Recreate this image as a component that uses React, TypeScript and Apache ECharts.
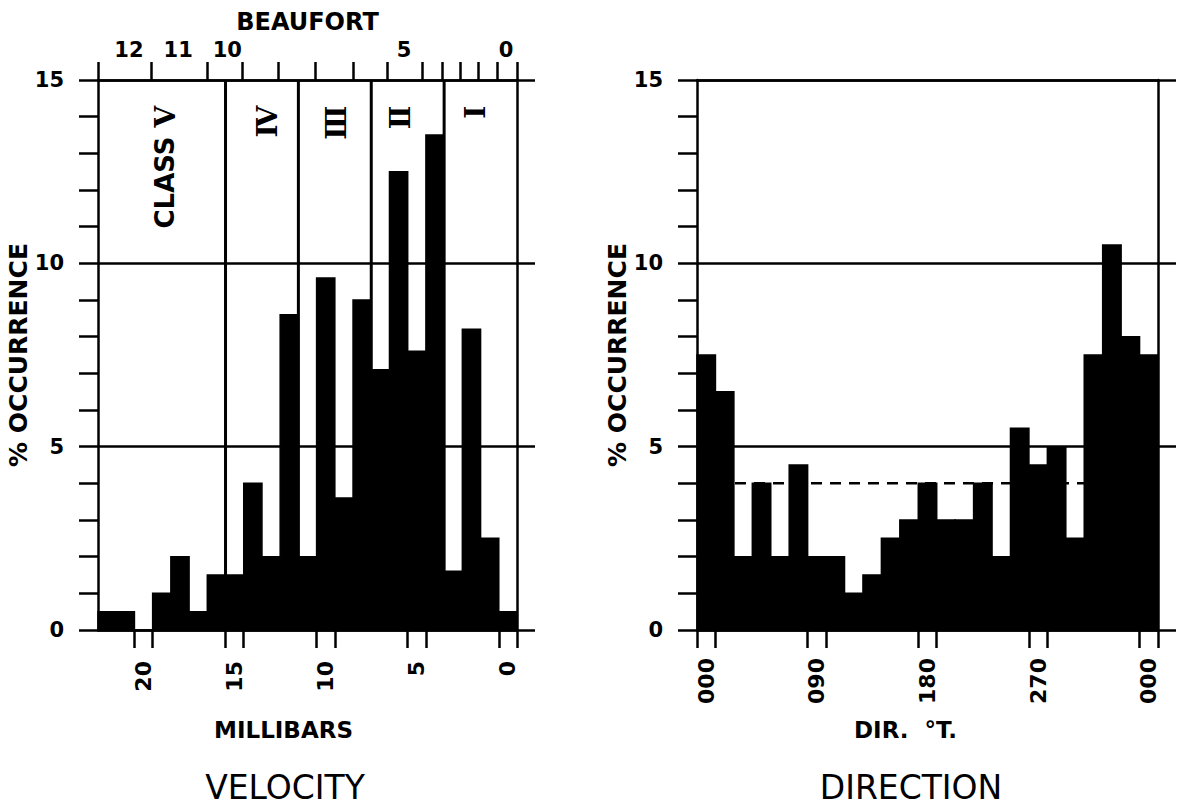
import React, { useEffect, useRef } from "react";
import * as echarts from "echarts";

// ---------- DATA ----------
// Velocity histogram (pressure gradient, millibars; bins 1 mb wide)
const velocityMb = [22, 21, 20, 19, 18, 17, 16, 15, 14, 13, 12, 11, 10, 9, 8, 7, 6, 5, 4, 3, 2, 1, 0];
const velocityPct = [0.5, 0.5, 0, 1.0, 2.0, 0.5, 1.5, 1.5, 4.0, 2.0, 8.6, 2.0, 9.6, 3.6, 9.0, 7.1, 12.5, 7.6, 13.5, 1.6, 8.2, 2.5, 0.5];
const velocityBinWidth = 1;
const velocityLabelMb = [20, 15, 10, 5, 0];
const velocityTickEdges = [20.5, 19.5, 15.5, 14.5, 10.5, 9.5, 5.5, 4.5, 0.5, -0.5];
const velocityRange = [-0.5, 22.5];

// Class boundaries and labels
const classEdges = [15.5, 11.5, 7.5, 3.5];
const classWords = ["CLASS", "", "", "", ""];
const classNumerals = ["Ⅴ", "Ⅳ", "Ⅲ", "Ⅱ", "Ⅰ"];
const classLabelMb = [18.8, 13.2, 9.4, 5.9, 1.8];
const classLabelTop = 14.3;

// Beaufort scale on the top axis
const beaufortEdges = [22.5, 19.6, 16.5, 14.6, 12.6, 10.6, 8.5, 6.6, 4.7, 3.6, 2.6, 1.6, 0.6, -0.5];
const beaufortLabelMb = [20.8, 18.1, 15.4, 5.7, 0.1];
const beaufortLabels = ["12", "11", "10", "5", "0"];

// Direction histogram (degrees true; bins 15 deg wide, 000 repeated at the end)
const directionDeg = [0, 15, 30, 45, 60, 75, 90, 105, 120, 135, 150, 165, 180, 195, 210, 225, 240, 255, 270, 285, 300, 315, 330, 345, 360];
const directionPct = [7.5, 6.5, 2.0, 4.0, 2.0, 4.5, 2.0, 2.0, 1.0, 1.5, 2.5, 3.0, 4.0, 3.0, 3.0, 4.0, 2.0, 5.5, 4.5, 5.0, 2.5, 7.5, 10.5, 8.0, 7.5];
const directionBinWidth = 15;
const directionLabelDeg = [0, 90, 180, 270, 360];
const directionLabels = ["000", "090", "180", "270", "000"];
const directionTickEdges = [-7.5, 7.5, 82.5, 97.5, 172.5, 187.5, 262.5, 277.5, 352.5, 367.5];
const directionRange = [-7.5, 367.5];
const meanLevel = 4;

const pctMax = 15;
const pctInterval = 5;

// ---------- STYLE ----------
const BLACK = "#000";
const FONT = '"DejaVu Sans", "Liberation Sans", sans-serif';
const LW = 2.5;
const axisLineStyle = { color: BLACK, width: LW };
const bold = (size: number) => ({ color: BLACK, fontFamily: FONT, fontWeight: "bold" as const, fontSize: size });

const nearestLabel = (v: number, positions: number[], labels: string[]) => {
  let best = 0;
  for (let i = 1; i < positions.length; i++) {
    if (Math.abs(positions[i] - v) < Math.abs(positions[best] - v)) best = i;
  }
  return Math.abs(positions[best] - v) < 1e-6 ? labels[best] : "";
};

const histogramRenderer = (binWidth: number) => (params: any, api: any) => {
  const x = api.value(0);
  const y = api.value(1);
  const p1 = api.coord([x - binWidth / 2, y]);
  const p2 = api.coord([x + binWidth / 2, 0]);
  const left = Math.min(p1[0], p2[0]);
  const top = Math.min(p1[1], p2[1]);
  return {
    type: "rect",
    shape: { x: left, y: top, width: Math.abs(p2[0] - p1[0]), height: Math.abs(p2[1] - p1[1]) },
    style: { fill: BLACK, stroke: BLACK, lineWidth: 1.5 },
  };
};

function buildOption(): any {
  const yLeft = (gridIndex: number, nameGap: number) => ({
    gridIndex,
    type: "value",
    position: "left",
    min: 0,
    max: pctMax,
    interval: pctInterval,
    axisLine: { show: true, onZero: false, lineStyle: axisLineStyle },
    axisTick: { show: true, length: 19, lineStyle: axisLineStyle },
    minorTick: { show: true, splitNumber: 5, length: 19, lineStyle: axisLineStyle },
    axisLabel: { margin: 34, ...bold(21) },
    splitLine: { show: true, lineStyle: axisLineStyle },
    name: "% OCCURRENCE",
    nameLocation: "middle",
    nameRotate: 90,
    nameGap,
    nameTextStyle: bold(25),
  });
  const yRight = (gridIndex: number) => ({
    gridIndex,
    type: "value",
    position: "right",
    min: 0,
    max: pctMax,
    interval: pctInterval,
    axisLine: { show: true, onZero: false, lineStyle: axisLineStyle },
    axisTick: { show: true, length: 18, lineStyle: axisLineStyle },
    axisLabel: { show: false },
    splitLine: { show: false },
  });

  return {
    animation: false,
    backgroundColor: "#fff",
    grid: [
      { left: 98, top: 80, width: 419, height: 550, outerBoundsMode: "none" },
      { left: 697, top: 80, width: 461, height: 550, outerBoundsMode: "none" },
    ],
    xAxis: [
      {
        gridIndex: 0,
        type: "value",
        position: "bottom",
        min: velocityRange[0],
        max: velocityRange[1],
        inverse: true,
        axisLine: { show: true, onZero: false, lineStyle: axisLineStyle },
        axisTick: { show: true, customValues: velocityTickEdges, length: 18, lineStyle: axisLineStyle },
        axisLabel: { customValues: velocityLabelMb, rotate: 90, margin: 31, ...bold(22) },
        splitLine: { show: false },
        name: "MILLIBARS",
        nameLocation: "middle",
        nameGap: 88,
        nameTextStyle: { ...bold(23), padding: [0, 48, 0, 0] },
      },
      {
        gridIndex: 0,
        type: "value",
        position: "top",
        min: velocityRange[0],
        max: velocityRange[1],
        inverse: true,
        axisLine: { show: true, onZero: false, lineStyle: axisLineStyle },
        axisTick: { show: true, customValues: beaufortEdges, length: 18, lineStyle: axisLineStyle },
        axisLabel: {
          customValues: beaufortLabelMb,
          margin: 20,
          formatter: (v: number) => nearestLabel(v, beaufortLabelMb, beaufortLabels),
          ...bold(21),
        },
        splitLine: { show: false },
        name: "BEAUFORT",
        nameLocation: "middle",
        nameGap: 46,
        nameTextStyle: bold(24),
      },
      {
        gridIndex: 1,
        type: "value",
        position: "bottom",
        min: directionRange[0],
        max: directionRange[1],
        axisLine: { show: true, onZero: false, lineStyle: axisLineStyle },
        axisTick: { show: true, customValues: directionTickEdges, length: 18, lineStyle: axisLineStyle },
        axisLabel: {
          customValues: directionLabelDeg,
          rotate: 90,
          margin: 28,
          formatter: (v: number) => nearestLabel(v, directionLabelDeg, directionLabels),
          ...bold(22),
        },
        splitLine: { show: false },
        name: "DIR.  °T.",
        nameLocation: "middle",
        nameGap: 88,
        nameTextStyle: { ...bold(23), padding: [0, 44, 0, 0] },
      },
      {
        gridIndex: 1,
        type: "value",
        position: "top",
        min: directionRange[0],
        max: directionRange[1],
        axisLine: { show: true, onZero: false, lineStyle: axisLineStyle },
        axisTick: { show: false },
        axisLabel: { show: false },
        splitLine: { show: false },
      },
    ],
    yAxis: [yLeft(0, 56), yRight(0), yLeft(1, 51), yRight(1)],
    graphic: [
      {
        type: "text",
        x: 285,
        y: 804,
        style: { text: "VELOCITY", fill: BLACK, fontFamily: FONT, fontSize: 33, fontWeight: "normal", align: "center", verticalAlign: "bottom" },
      },
      {
        type: "text",
        x: 911,
        y: 804,
        style: { text: "DIRECTION", fill: BLACK, fontFamily: FONT, fontSize: 33, fontWeight: "normal", align: "center", verticalAlign: "bottom" },
      },
    ],
    series: [
      {
        name: "Velocity",
        type: "custom",
        xAxisIndex: 0,
        yAxisIndex: 0,
        z: 3,
        renderItem: histogramRenderer(velocityBinWidth),
        data: velocityMb.map((m, i) => [m, velocityPct[i]]),
      },
      {
        name: "Class boundaries",
        type: "custom",
        xAxisIndex: 0,
        yAxisIndex: 0,
        z: 4,
        renderItem: (params: any, api: any) => {
          const a = api.coord([api.value(0), 0]);
          const b = api.coord([api.value(0), api.value(1)]);
          return {
            type: "line",
            shape: { x1: a[0], y1: a[1], x2: b[0], y2: b[1] },
            style: { stroke: BLACK, lineWidth: 3 },
          };
        },
        data: classEdges.map((e) => [e, pctMax]),
      },
      {
        name: "Class labels",
        type: "custom",
        xAxisIndex: 0,
        yAxisIndex: 0,
        z: 5,
        renderItem: (params: any, api: any) => {
          const p = api.coord([api.value(0), api.value(1)]);
          const word = classWords[params.dataIndex];
          const num = classNumerals[params.dataIndex];
          const text = word ? `{s|${word} }{r|${num}}` : `{r|${num}}`;
          return {
            type: "text",
            x: p[0],
            y: p[1],
            rotation: Math.PI / 2,
            style: {
              text,
              fill: BLACK,
              align: "right",
              verticalAlign: "middle",
              rich: {
                s: { fontFamily: FONT, fontWeight: "bold", fontSize: 26, fill: BLACK },
                r: { fontFamily: '"DejaVu Serif", "Liberation Serif", serif', fontWeight: "bold", fontSize: 28, fill: BLACK },
              },
            },
          };
        },
        data: classLabelMb.map((m) => [m, classLabelTop]),
      },
      {
        name: "Mean",
        type: "line",
        xAxisIndex: 2,
        yAxisIndex: 2,
        z: 2,
        symbol: "none",
        silent: true,
        lineStyle: { color: BLACK, width: 2.5, type: [11, 8] },
        data: [
          [directionRange[0], meanLevel],
          [directionRange[1], meanLevel],
        ],
      },
      {
        name: "Direction",
        type: "custom",
        xAxisIndex: 2,
        yAxisIndex: 2,
        z: 3,
        renderItem: histogramRenderer(directionBinWidth),
        data: directionDeg.map((d, i) => [d, directionPct[i]]),
      },
    ],
  };
}

export default function App() {
  const ref = useRef<HTMLDivElement>(null);
  useEffect(() => {
    document.body.style.margin = "0";
    if (!ref.current) return;
    const chart = echarts.init(ref.current, undefined, { renderer: "svg" });
    chart.setOption(buildOption());
    return () => chart.dispose();
  }, []);
  return <div ref={ref} style={{ width: 1185, height: 806, background: "#fff" }} />;
}
